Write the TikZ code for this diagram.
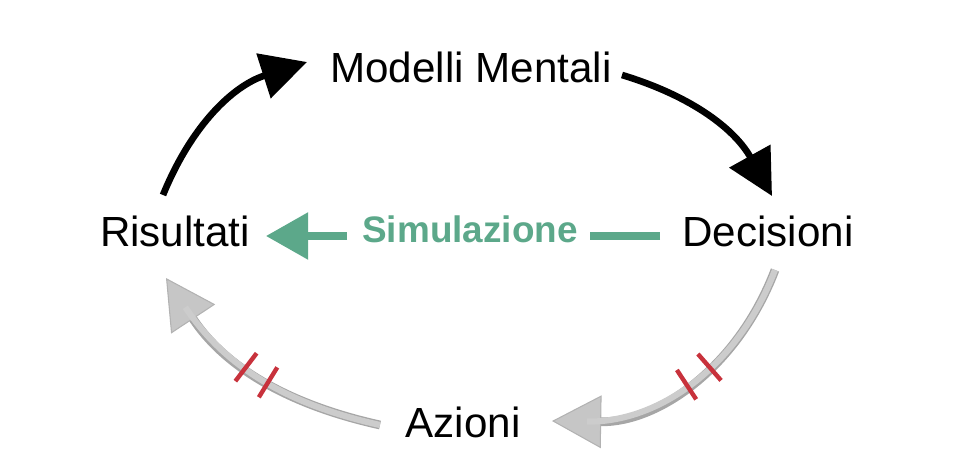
\documentclass[tikz,border=0pt]{standalone}
\usepackage{fontspec}
\setmainfont{Liberation Sans}
\usetikzlibrary{arrows.meta,decorations.markings}
\definecolor{simgreen}{RGB}{92,168,138}
\definecolor{delayred}{RGB}{200,50,60}
\tikzset{
  lbl/.style       = {font=\fontsize{24}{27}\selectfont, inner sep=0pt},
  loopblack/.style = {line width=3.8pt, -{Triangle[length=26pt,width=26pt]}},
  loopgray/.style  = {line width=5pt, draw=gray!70, -{Triangle[length=28pt,width=30pt,fill=gray!45,color=gray!60,line width=0.6pt]},
                      postaction={draw=gray!40, line width=3.5pt, -{}, shorten >=20pt}},
  delay/.style     = {postaction={decorate, decoration={markings,
                        mark=at position #1 with {\draw[delayred, line width=2.5pt, -{}] (0,-10pt) -- (0,10pt);}}}}
}
\begin{document}
\begin{tikzpicture}[x=0.02cm, y=-0.02cm]
  \useasboundingbox (0,0) rectangle (967,470);
  \node [lbl] (mm)  at (471,67)  {Modelli Mentali};
  \node [lbl] (dec) at (768,231) {Decisioni};
  \node [lbl] (az)  at (463,422) {Azioni};
  \node [lbl] (ris) at (175,231) {Risultati};
  \node [font=\bfseries\fontsize{21}{24}\selectfont, text=simgreen, inner sep=0pt] (sim) at (470,229) {Simulazione};
  \coordinate (ris-in)  at (163,195);
  \coordinate (mm-in)   at (307,62);
  \coordinate (mm-out)  at (622,75);
  \coordinate (dec-in)  at (772,196);
  \coordinate (dec-out) at (775,270);
  \coordinate (az-in)   at (552,421);
  \coordinate (az-out)  at (380,425);
  \coordinate (ris-up)  at (166,278);
  % loop
  \draw [loopblack] (ris-in) to[bend left=25] (mm-in);
  \draw [loopblack] (mm-out) to[bend left=22] (dec-in);
  \draw [loopgray, delay=0.41, delay=0.51] (dec-out) to[bend left=35] (az-in);
  \draw [loopgray, delay=0.45, delay=0.55] (az-out) to[bend left=22] (ris-up);
  % simulation shortcut
  \draw [simgreen, line width=4pt] (660,236) -- (590,236);
  \draw [simgreen, line width=4pt, -{Triangle[length=24pt,width=26pt]}] (347,236) -- (266,236);
\end{tikzpicture}
\end{document}
